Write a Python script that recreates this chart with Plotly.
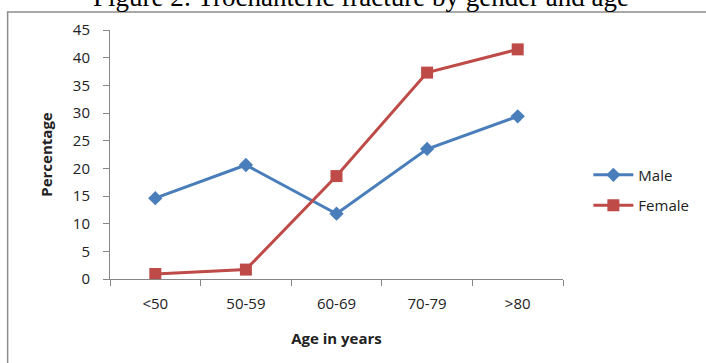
import plotly.graph_objects as go

# Age groups and share of trochanteric fractures (%) per gender
age_groups = ["<50", "50-59", "60-69", "70-79", ">80"]
male_pct = [14.6, 20.6, 11.8, 23.5, 29.4]
female_pct = [0.9, 1.7, 18.6, 37.3, 41.5]
y_ticks = [0, 5, 10, 15, 20, 25, 30, 35, 40, 45]

MALE_COLOR = "#4A7EBB"
FEMALE_COLOR = "#BE4B48"
AXIS_GRAY = "#878787"
TEXT_FONT = "Open Sans, Liberation Sans, sans-serif"

fig = go.Figure()
fig.add_trace(go.Scatter(
    x=age_groups, y=male_pct, name="Male", mode="lines+markers",
    legendgroup="m",
    line=dict(color=MALE_COLOR, width=3),
    marker=dict(symbol="diamond", size=11, color=MALE_COLOR),
))
fig.add_trace(go.Scatter(
    x=age_groups, y=female_pct, name="Female", mode="lines+markers",
    legendgroup="f",
    line=dict(color=FEMALE_COLOR, width=3),
    marker=dict(symbol="square", size=12, color=FEMALE_COLOR),
))

# outer frame around the chart
fig.add_shape(type="rect", xref="paper", yref="paper",
              x0=-0.226, x1=1.35, y0=-0.4, y1=1.072,
              line=dict(color="#8c8c8c", width=1.5), fillcolor="rgba(0,0,0,0)",
              layer="below")

fig.add_annotation(
    text="Figure 2: Trochanteric fracture by gender and age",
    xref="paper", yref="paper", x=0.553, y=1.066, xanchor="center", yanchor="bottom",
    showarrow=False, font=dict(family="Liberation Serif, Times New Roman, serif", size=27, color="#000"),
)

fig.update_layout(
    width=706, height=363,
    margin=dict(l=110, r=140, t=30, b=84),
    paper_bgcolor="white", plot_bgcolor="white",
    font=dict(family=TEXT_FONT, size=15, color="#222"),
    showlegend=True,
    legend=dict(x=1.056, y=0.357, xanchor="left", yanchor="middle",
                tracegroupgap=8, itemwidth=40, font=dict(size=15, color="#222"),
                bgcolor="rgba(0,0,0,0)"),
    xaxis=dict(
        type="category", range=[-0.5, 4.5], tickson="boundaries",
        showline=True, linecolor=AXIS_GRAY, linewidth=1,
        ticks="outside", ticklen=6, tickcolor=AXIS_GRAY,
        ticklabelstandoff=11,
        showgrid=False, zeroline=False,
        tickfont=dict(size=15, color="#222"),
        title=dict(text="<b>Age in years</b>", font=dict(size=15, color="#222"), standoff=21),
    ),
    yaxis=dict(
        range=[0, 45], tickvals=y_ticks,
        showline=True, linecolor=AXIS_GRAY, linewidth=1,
        ticks="outside", ticklen=6, tickcolor=AXIS_GRAY,
        ticklabelstandoff=10,
        showgrid=False, zeroline=False,
        tickfont=dict(size=15, color="#222"),
        title=dict(text="<b>Percentage</b>", font=dict(size=15, color="#222"), standoff=16),
    ),
)

fig.write_html("out.html")
